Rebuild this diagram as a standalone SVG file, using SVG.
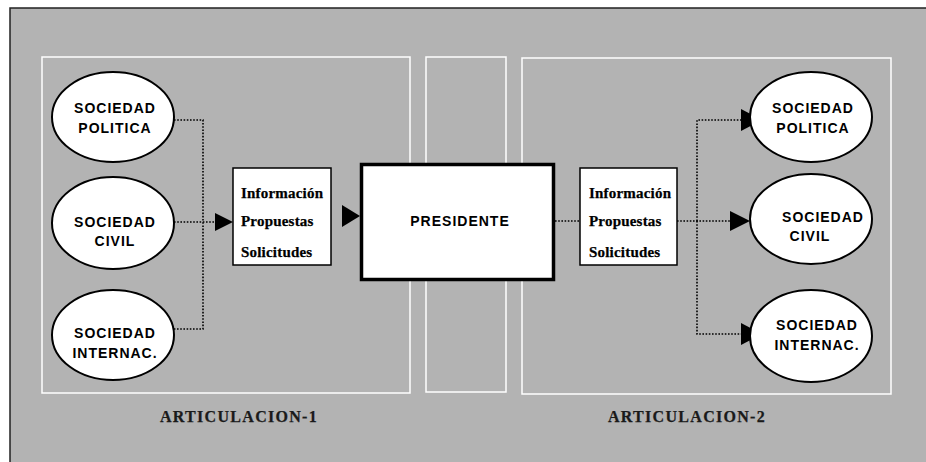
<svg xmlns="http://www.w3.org/2000/svg" width="926" height="462" viewBox="0 0 926 462">
<style>
.panel{fill:none;stroke:#fff;stroke-width:1.5}
.ell{fill:#fff;stroke:#000;stroke-width:2}
.box{fill:#fff;stroke:#000;stroke-width:1.5}
.et{font-family:"Liberation Sans",Arial,sans-serif;font-weight:bold;font-size:14px;letter-spacing:1px;text-anchor:middle;fill:#000}
.it{font-family:"Liberation Serif","Times New Roman",serif;font-weight:bold;font-size:15px;letter-spacing:0.2px;fill:#000;stroke:#000;stroke-width:0.25}
.lt{font-family:"Liberation Serif","Times New Roman",serif;font-weight:bold;font-size:16px;letter-spacing:1.3px;text-anchor:middle;fill:#1a1a1a;stroke:#1a1a1a;stroke-width:0.25}
.dot{fill:none;stroke:#000;stroke-width:1.6;stroke-dasharray:1.6 1.6}
.ah{fill:#000}
</style>
<rect x="0" y="0" width="926" height="462" fill="#fff"/>
<rect x="10" y="8" width="930" height="470" fill="#b3b3b3" stroke="#222" stroke-width="1.5"/>
<g id="panels">
<rect class="panel" x="42" y="57" width="368" height="336"/>
<rect class="panel" x="426" y="57" width="80" height="335"/>
<rect class="panel" x="522" y="58" width="369" height="336"/>
</g>
<g id="connectors">
<path class="dot" d="M174 120 H203 V329 H172"/>
<path class="dot" d="M174 222 H216"/>
<polygon class="ah" points="215,213 233,222 215,231"/>
<polygon class="ah" points="342,205 360,216 342,227"/>
<path class="dot" d="M555 221 H580"/>
<path class="dot" d="M677 221 H731"/>
<path class="dot" d="M697 221 V120 H742 M697 221 V334 H742"/>
<polygon class="ah" points="730,211 750,221 730,231"/>
<polygon class="ah" points="741,109 762,120 741,131"/>
<polygon class="ah" points="741,323 762,334 741,345"/>
</g>
<g id="n-pol-l"><ellipse class="ell" cx="113" cy="117" rx="61" ry="45"/><text class="et" x="115" y="113">SOCIEDAD</text><text class="et" x="115" y="133">POLITICA</text></g>
<g id="n-civ-l"><ellipse class="ell" cx="113" cy="223" rx="61" ry="46"/><text class="et" x="115" y="227">SOCIEDAD</text><text class="et" x="115" y="246">CIVIL</text></g>
<g id="n-int-l"><ellipse class="ell" cx="113" cy="335" rx="61" ry="45"/><text class="et" x="115" y="338">SOCIEDAD</text><text class="et" x="115" y="358">INTERNAC.</text></g>
<g id="n-info-l"><rect class="box" x="233" y="168" width="98" height="97"/><text class="it" x="241" y="198">Información</text><text class="it" x="241" y="226">Propuestas</text><text class="it" x="241" y="257">Solicitudes</text></g>
<g id="n-pres"><rect x="361.5" y="164.5" width="192" height="115" fill="#fff" stroke="#000" stroke-width="3.5"/><text class="et" x="460" y="226">PRESIDENTE</text></g>
<g id="n-info-r"><rect class="box" x="580" y="168" width="97" height="97"/><text class="it" x="589" y="198">Información</text><text class="it" x="589" y="226">Propuestas</text><text class="it" x="589" y="257">Solicitudes</text></g>
<g id="n-pol-r"><ellipse class="ell" cx="811" cy="117" rx="61" ry="45"/><text class="et" x="813" y="113">SOCIEDAD</text><text class="et" x="813" y="133">POLITICA</text></g>
<g id="n-civ-r"><ellipse class="ell" cx="811" cy="219" rx="61" ry="45"/><text class="et" x="823" y="222">SOCIEDAD</text><text class="et" x="810" y="241">CIVIL</text></g>
<g id="n-int-r"><ellipse class="ell" cx="811" cy="336" rx="61" ry="46"/><text class="et" x="817" y="330">SOCIEDAD</text><text class="et" x="817" y="350">INTERNAC.</text></g>
<g id="labels"><text class="lt" x="239" y="422">ARTICULACION-1</text><text class="lt" x="687" y="422">ARTICULACION-2</text></g>
</svg>
